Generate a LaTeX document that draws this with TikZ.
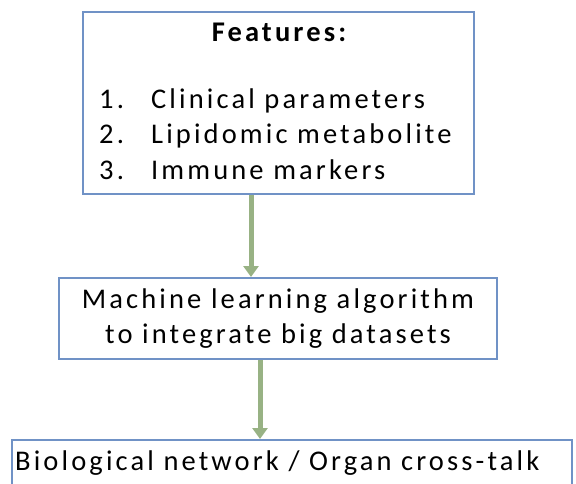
\documentclass[tikz,border=0pt]{standalone}
\usepackage{fontspec}
\setmainfont{Carlito}[LetterSpace=11]
\usetikzlibrary{arrows.meta}
\definecolor{boxblue}{RGB}{112,146,198}
\definecolor{flowgreen}{RGB}{152,178,132}

\begin{document}
\begin{tikzpicture}[x=1pt,y=-1pt,
  every node/.style={inner sep=0pt,font=\fontsize{28.5}{35}\selectfont},
  box/.style={draw=boxblue,line width=2pt},
  flow/.style={draw=flowgreen,line width=5pt,-{Triangle[width=15pt,length=11pt]}}]
\useasboundingbox (0,0) rectangle (576,484);
\clip (0,0) rectangle (576,484);
% boxes
\node [box,minimum width=391pt,minimum height=182pt] (feat) at (278.5,103) {};
\node [box,minimum width=438pt,minimum height=81pt,align=center] (ml) at (278,318.5)
  {Machine learning algorithm\\to integrate big datasets};
\node [box,minimum width=560pt,minimum height=60pt,anchor=north west] (net) at (11,439) {};
% texts
\node [anchor=base] (feattitle) at (279,42) {\bfseries Features:};
\node [anchor=base west] (num1) at (99,109) {1.};
\node [anchor=base west] (item1) at (151,109) {Clinical parameters};
\node [anchor=base west] (num2) at (99,144) {2.};
\node [anchor=base west] (item2) at (151,144) {Lipidomic metabolite};
\node [anchor=base west] (num3) at (99,179) {3.};
\node [anchor=base west] (item3) at (151,179) {Immune markers};
\node [anchor=base west] (nettext) at (15,470) {Biological network / Organ cross-talk};
% arrows
\draw [flow] ([xshift=-27.5pt]feat.south) -- ([xshift=-27.5pt]feat.south |- ml.north);
\draw [flow] ([xshift=-18pt]ml.south) -- ([xshift=-18pt]ml.south |- net.north);
\end{tikzpicture}
\end{document}
